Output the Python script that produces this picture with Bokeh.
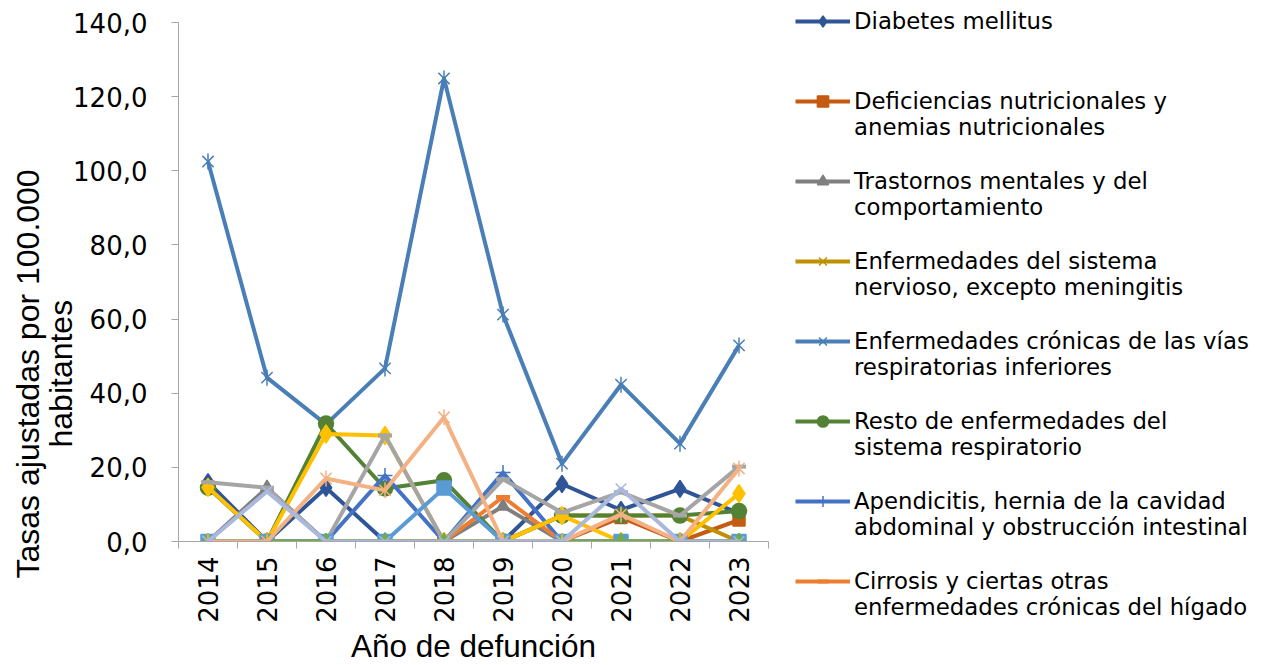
import math
from bokeh.plotting import figure
from bokeh.models import (FixedTicker, CustomJSTickFormatter, Legend, LegendItem,
                          Title, Range1d, ColumnDataSource)
from bokeh.embed import file_html
from bokeh.resources import INLINE

# ---------------- data ----------------
years = [2014, 2015, 2016, 2017, 2018, 2019, 2020, 2021, 2022, 2023]
y_ticks = [0, 20, 40, 60, 80, 100, 120, 140]

diabetes = [16.0, 0.0, 14.5, 0.0, 0.0, 0.0, 15.5, 8.5, 14.2, 7.6]
deficiencias = [0.0, 0.0, 0.0, 0.0, 0.0, 0.0, 0.0, 6.5, 0.0, 5.8]
trastornos = [0.0, 14.5, 0.0, 0.0, 0.0, 9.5, 0.0, 0.0, 0.0, 0.0]
sist_nervioso = [0.0, 0.0, 0.0, 0.0, 0.0, 0.0, 7.0, 7.0, 7.0, 0.0]
cronicas_resp = [102.5, 44.2, 31.6, 46.7, 124.9, 61.2, 21.0, 42.3, 26.4, 52.9]
resto_resp = [14.5, 0.0, 31.8, 14.3, 16.5, 0.0, 7.0, 7.0, 7.0, 8.2]
apendicitis = [0.0, 0.0, 0.0, 17.8, 0.0, 18.6, 0.0, 0.0, 0.0, 0.0]
cirrosis = [0.0, 0.0, 0.0, 0.0, 0.0, 12.0, 0.0, 0.0, 0.0, 0.0]
# further series drawn in the chart (their legend entries are cut off)
serie_9 = [14.6, 0.0, 29.0, 28.6, 0.0, 0.0, 7.0, 0.0, 0.0, 12.9]
serie_10 = [16.0, 14.5, 0.0, 28.6, 0.0, 16.8, 7.8, 13.3, 7.0, 20.2]
serie_11 = [0.0, 0.0, 0.0, 0.0, 14.4, 0.0, 0.0, 0.0, 0.0, 0.0]
serie_12 = [0.0, 0.0, 0.0, 0.0, 0.0, 0.0, 0.0, 0.0, 0.0, 0.0]
serie_13 = [0.0, 0.0, 17.0, 13.8, 33.5, 0.0, 0.0, 7.3, 0.0, 19.7]
serie_14 = [0.0, 13.5, 0.0, 0.0, 0.0, 0.0, 0.0, 14.2, 0.0, 0.0]

legend_names = [
    "Diabetes mellitus",
    "Deficiencias nutricionales y\nanemias nutricionales",
    "Trastornos mentales y del\ncomportamiento",
    "Enfermedades del sistema\nnervioso, excepto meningitis",
    "Enfermedades crónicas de las vías\nrespiratorias inferiores",
    "Resto de enfermedades del\nsistema respiratorio",
    "Apendicitis, hernia de la cavidad\nabdominal y obstrucción intestinal",
    "Cirrosis y ciertas otras\nenfermedades crónicas del hígado",
]

# (values, color, marker, size, legend index or None); "star" = x with a vertical bar
series = [
    (diabetes, "#2F5597", "diamond", 17, 0),
    (deficiencias, "#C55A11", "square", 12, 1),
    (trastornos, "#7F7F7F", "triangle", 13, 2),
    (sist_nervioso, "#BF9000", "x", 13, 3),
    (cronicas_resp, "#4A7EB6", "star", 16, 4),
    (resto_resp, "#548235", "circle", 15, 5),
    (apendicitis, "#4472C4", "cross", 15, 6),
    (cirrosis, "#ED7D31", "dash", 14, 7),
    (serie_9, "#FFC000", "diamond", 18, None),
    (serie_10, "#A5A5A5", "dash", 14, None),
    (serie_11, "#5B9BD5", "square", 14, None),
    (serie_12, "#70AD47", "triangle", 14, None),
    (serie_13, "#F4B183", "star", 16, None),
    (serie_14, "#A9B8DC", "x", 15, None),
]

p = figure(frame_width=590, frame_height=519, output_backend="svg", toolbar_location=None,
           x_range=Range1d(2013.5, 2023.5), y_range=Range1d(0, 140),
           min_border_left=178, min_border_right=512, min_border_top=22,
           min_border_bottom=123)
p.outline_line_color = None
p.grid.visible = False

# axes
ax = p.xaxis[0]
ax.ticker = FixedTicker(ticks=years, minor_ticks=[y - 0.5 for y in years] + [years[-1] + 0.5])
ax.major_tick_out = 0
ax.major_tick_in = 0
ax.minor_tick_out = 7
ax.minor_tick_in = 0
ax.minor_tick_line_color = "#A6A6A6"
ax.axis_line_color = "#A6A6A6"
ax.major_label_orientation = math.pi / 2
ax.major_label_standoff = 8
ax.major_label_text_font = "DejaVu Sans"
ax.major_label_text_font_size = "26px"
ax.major_label_text_color = "#000000"
ax.axis_label = "Año de defunción"
ax.axis_label_text_font = "Liberation Sans"
ax.axis_label_text_font_size = "31.5px"
ax.axis_label_text_font_style = "normal"
ax.axis_label_text_color = "#000000"
ax.axis_label_standoff = 2

ay = p.yaxis[0]
ay.ticker = FixedTicker(ticks=y_ticks)
ay.formatter = CustomJSTickFormatter(code="return tick.toFixed(1).replace('.', ',');")
ay.major_tick_out = 7
ay.major_tick_in = 0
ay.minor_tick_out = 0
ay.minor_tick_in = 0
ay.major_tick_line_color = "#A6A6A6"
ay.axis_line_color = "#A6A6A6"
ay.major_label_standoff = 24
ay.major_label_text_font = "DejaVu Sans"
ay.major_label_text_font_size = "26px"
ay.major_label_text_color = "#000000"

# y axis title, two lines
for txt, off, so in [("habitantes", 94, -16), ("Tasas ajustadas por 100.000", -37, 5)]:
    p.add_layout(Title(text=txt, align="left", offset=off, standoff=so,
                       text_font="Liberation Sans", text_font_size="32px",
                       text_font_style="normal", text_color="#000000"), "left")

items = [None] * len(legend_names)
for vals, color, marker, size, li in series:
    src = ColumnDataSource(dict(x=years, y=vals))
    rends = [p.line("x", "y", source=src, line_color=color, line_width=4, line_join="round")]
    if marker == "star":
        rends.append(p.scatter("x", "y", source=src, marker="x", size=size,
                               line_color=color, line_width=1.5))
        rends.append(p.scatter("x", "y", source=src, marker="dash", angle=math.pi / 2,
                               size=size, line_color=color, line_width=1.5))
    else:
        lw = 4 if marker == "dash" else 1.5
        rends.append(p.scatter("x", "y", source=src, marker=marker, size=size,
                               fill_color=color, line_color=color, line_width=lw))
    if li is not None:
        name = legend_names[li]
        # the key glyph sits at the middle of the label block: a blank line above a
        # two-line name keeps the glyph level with the name's first line
        label = " \n" + name if "\n" in name else name
        items[li] = LegendItem(label=label, renderers=rends)

legend = Legend(items=items, location=(27, -80), padding=0, margin=0, spacing=0,
                border_line_color=None, background_fill_alpha=0,
                glyph_width=55, glyph_height=28, label_standoff=4,
                label_height=80,
                label_text_font="DejaVu Sans", label_text_font_size="22.8px",
                label_text_color="#000000")
p.add_layout(legend, "right")

open("out.html", "w").write(file_html(p, INLINE))
